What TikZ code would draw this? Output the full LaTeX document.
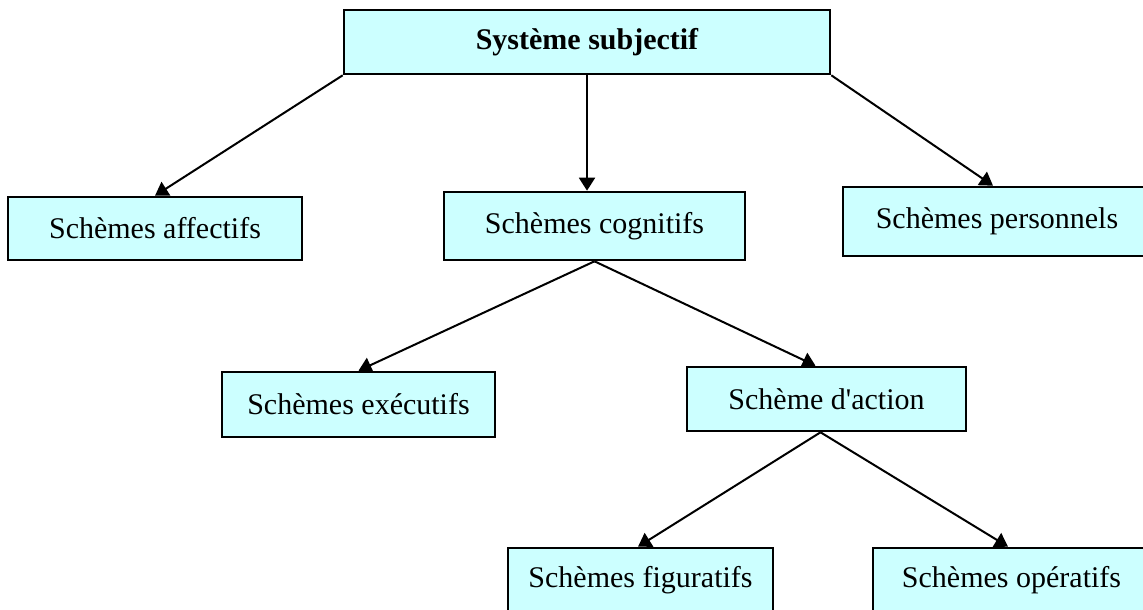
\documentclass[tikz,border=0pt]{standalone}
\usepackage{fontspec}
\setmainfont{Liberation Serif}
\usetikzlibrary{arrows.meta}
\definecolor{boxcyan}{HTML}{CCFFFF}

\begin{document}
\begin{tikzpicture}[x=0.5pt,y=-0.5pt,
        schemebox/.style={draw,line width=1.3pt,fill=boxcyan,inner sep=0pt,
            font=\fontsize{15}{18}\selectfont},
        link/.style={line width=1pt,-{Triangle[length=6.5pt,width=8pt]}}]
        \useasboundingbox (0,0) rectangle (1143,609);
        % top level
        \node[schemebox,minimum width=243pt,minimum height=32pt,
            font=\fontsize{15}{18}\selectfont\bfseries] (sys) at (587,42) {Système subjectif};
        % second level
        \node[schemebox,minimum width=147pt,minimum height=31.5pt] (aff) at (155,228.5) {Schèmes affectifs};
        \node[schemebox,minimum width=150.5pt,minimum height=34pt] (cog) at (594.5,226) {Schèmes cognitifs};
        \node[schemebox,minimum width=154pt,minimum height=34.5pt] (per) at (997,221.5) {Schèmes personnels};
        % third level
        \node[schemebox,minimum width=136.5pt,minimum height=32.5pt] (exe) at (358.5,404.5) {Schèmes exécutifs};
        \node[schemebox,minimum width=139.5pt,minimum height=32pt] (act) at (826.5,399) {Schème d\textquotesingle action};
        % fourth level
        \node[schemebox,minimum width=132.5pt,minimum height=32pt] (fig) at (640.5,580) {Schèmes figuratifs};
        \node[schemebox,minimum width=138.5pt,minimum height=32pt] (ope) at (1011.5,580) {Schèmes opératifs};
        % connectors
        \draw[link] (sys.south west) -- (aff.north);
        \draw[link] (sys.south) -- (sys.south |- cog.north);
        \draw[link] (sys.south east) -- ([xshift=-2pt]per.north);
        \draw[link] (cog.south) -- (exe.north);
        \draw[link] (cog.south) -- ([xshift=-5.5pt]act.north);
        \draw[link] ([xshift=-3pt]act.south) -- ([xshift=-1.25pt]fig.north);
        \draw[link] ([xshift=-3pt]act.south) -- ([xshift=-1.75pt]ope.north);
    \end{tikzpicture}
\end{document}
